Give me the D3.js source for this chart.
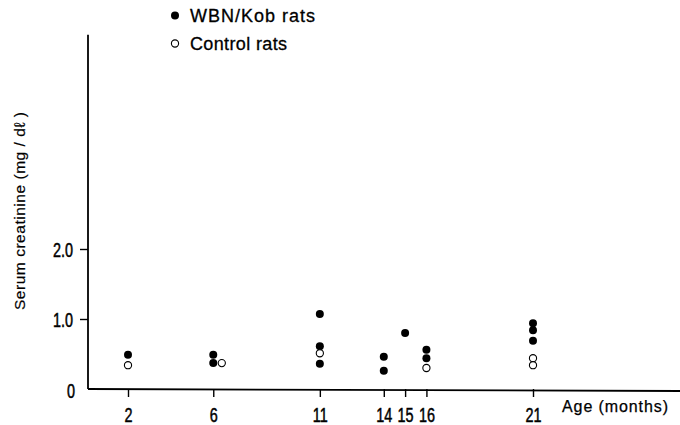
<!DOCTYPE html>
<html>
<head>
<meta charset="utf-8">
<script src="https://cdn.jsdelivr.net/npm/d3@7"></script>
<style>
  html, body { margin: 0; padding: 0; background: #fff; }
  svg { display: block; }
</style>
</head>
<body>
<svg id="chart" width="680" height="425"></svg>
<script>
// ---- data ----
const wbnAges   = [2, 6, 6, 11, 11, 11, 14, 14, 15, 16, 16, 21, 21, 21];
const wbnValues = [0.49, 0.49, 0.37, 1.07, 0.61, 0.36, 0.46, 0.26, 0.80, 0.56, 0.44, 0.94, 0.84, 0.69];
const ctrlAges   = [2, 6.4, 11, 16, 21, 21];
const ctrlValues = [0.34, 0.37, 0.51, 0.30, 0.44, 0.34];
const xTicks = [2, 6, 11, 14, 15, 16, 21];
const yTicks = [0, 1, 2];
const yTickLabels = ["0", "1.0", "2.0"];
const legendLabels = ["WBN/Kob  rats", "Control  rats"];
const yTitle = "Serum  creatinine (mg / d\u2113 )";
const xTitle = "Age (months)";

const svg = d3.select("#chart");
const W = 680, H = 425;
const originX = 88, originY = 389;
const narrow = 0.74;
const tickFont = "Liberation Sans, Arial, sans-serif";

const x = d3.scaleLinear().domain([2, 21]).range([128, 533]);
const y = d3.scaleLinear().domain([0, 2]).range([originY, 249]);

const wbn = wbnAges.map((a, i) => ({age: a, v: wbnValues[i]}));
const ctrl = ctrlAges.map((a, i) => ({age: a, v: ctrlValues[i]}));

// Y axis
const yAxis = d3.axisLeft(y)
  .tickValues(yTicks)
  .tickSize(8)
  .tickPadding(7)
  .tickFormat((d, i) => yTickLabels[i]);
const gy = svg.append("g").attr("transform", `translate(${originX},0)`).call(yAxis);
gy.select(".domain").remove();
gy.selectAll(".tick line").attr("stroke", "#000").attr("stroke-width", 1.4)
  .filter(d => d === 0).remove();
gy.selectAll(".tick text")
  .attr("font-family", tickFont).attr("font-size", 19.5).attr("fill", "#000")
  .attr("stroke", "#000").attr("stroke-width", 0.5)
  .attr("x", -15 / narrow).attr("dy", "0.36em")
  .attr("transform", `scale(${narrow},1)`);
gy.selectAll(".tick text").filter(d => d === 0).attr("x", -13 / narrow).attr("dy", "0.45em");
svg.append("line")
  .attr("x1", originX).attr("x2", originX)
  .attr("y1", y(5.06)).attr("y2", originY)
  .attr("stroke", "#000").attr("stroke-width", 1.8);

// X axis
const xAxis = d3.axisBottom(x)
  .tickValues(xTicks)
  .tickSize(8)
  .tickPadding(11)
  .tickFormat(d3.format("d"));
const gx = svg.append("g").attr("transform", `translate(0,${originY})`).call(xAxis);
gx.select(".domain").remove();
gx.selectAll(".tick line").attr("stroke", "#000").attr("stroke-width", 1.4);
gx.selectAll(".tick text")
  .attr("font-family", tickFont).attr("font-size", 19.5).attr("fill", "#000")
  .attr("stroke", "#000").attr("stroke-width", 0.5)
  .attr("transform", `scale(${narrow},1)`);
svg.append("line")
  .attr("x1", originX).attr("x2", W)
  .attr("y1", originY).attr("y2", originY + 2)
  .attr("stroke", "#000").attr("stroke-width", 1.8);

// Axis titles
svg.append("text")
  .attr("x", 562).attr("y", 412)
  .attr("font-family", "Liberation Sans, Arial, sans-serif")
  .attr("font-size", 16)
  .attr("textLength", 106)
  .attr("lengthAdjust", "spacing")
  .attr("fill", "#000")
  .attr("stroke", "#000").attr("stroke-width", 0.25)
  .text(xTitle);

svg.append("text")
  .attr("transform", "translate(25,211) rotate(-90)")
  .attr("text-anchor", "middle")
  .attr("font-family", "Liberation Sans, Arial, sans-serif")
  .attr("font-size", 15.5)
  .attr("textLength", 198)
  .attr("lengthAdjust", "spacing")
  .attr("fill", "#000")
  .attr("stroke", "#000").attr("stroke-width", 0.2)
  .text(yTitle);

// Points
svg.append("g").selectAll("circle.wbn").data(wbn).join("circle")
  .attr("class", "wbn")
  .attr("cx", d => x(d.age)).attr("cy", d => y(d.v))
  .attr("r", 4).attr("fill", "#000");

svg.append("g").selectAll("circle.ctrl").data(ctrl).join("circle")
  .attr("class", "ctrl")
  .attr("cx", d => x(d.age)).attr("cy", d => y(d.v))
  .attr("r", 3.6).attr("fill", "#fff").attr("stroke", "#000").attr("stroke-width", 1.1);

// Legend
const legendLengths = [125, 97];
const lg = svg.append("g");
legendLabels.forEach((lab, i) => {
  const cy = 15.5 + i * 28;
  lg.append("circle")
    .attr("cx", 175).attr("cy", cy)
    .attr("r", i === 0 ? 4 : 3.6)
    .attr("fill", i === 0 ? "#000" : "#fff")
    .attr("stroke", "#000").attr("stroke-width", i === 0 ? 0 : 1.1);
  lg.append("text")
    .attr("x", 190).attr("y", cy + 6.5)
    .attr("font-family", "Liberation Sans, Arial, sans-serif")
    .attr("font-size", 18)
    .attr("textLength", legendLengths[i])
    .attr("lengthAdjust", "spacing")
    .attr("fill", "#000")
    .attr("stroke", "#000").attr("stroke-width", 0.3)
    .text(lab);
});
</script>
</body>
</html>
